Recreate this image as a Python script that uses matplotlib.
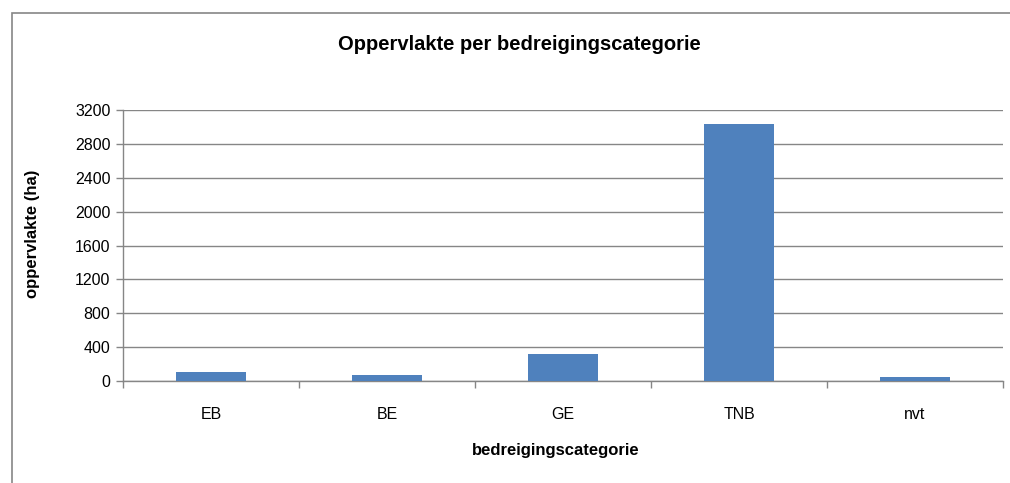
import matplotlib.pyplot as plt
from matplotlib.patches import Rectangle
import numpy as np

plt.rcParams['font.family'] = ['Liberation Sans', 'DejaVu Sans']

categories = ['EB', 'BE', 'GE', 'TNB', 'nvt']
oppervlakte = [105, 70, 315, 3030, 50]
y_ticks = [0, 400, 800, 1200, 1600, 2000, 2400, 2800, 3200]

W, H = 1010, 483
fig = plt.figure(figsize=(W / 100, H / 100), dpi=100)

# chart border (left/top visible, runs off the right and bottom edges)
fig.patches.append(Rectangle((12 / W, -0.05), 1.2, 1 - 13 / H + 0.05,
                             transform=fig.transFigure, fill=False,
                             edgecolor='#868686', linewidth=1.2))

ax = fig.add_axes([123 / W, 1 - 381 / H, (1003 - 123) / W, (381 - 110) / H])

x = np.arange(len(categories))
ax.bar(x, oppervlakte, width=0.4, color='#4F81BD', zorder=3)

ax.set_xlim(-0.5, len(categories) - 0.5)
ax.set_ylim(0, 3200)
ax.set_yticks(y_ticks)
ax.set_yticklabels([str(v) for v in y_ticks], fontsize=11.5)
ax.yaxis.grid(True, color='#868686', linewidth=1, zorder=0)

ax.set_xticks(x)
ax.set_xticklabels(categories, fontsize=11.5)
ax.tick_params(axis='x', length=0, pad=19)
ax.set_xticks(np.arange(-0.5, len(categories), 1), minor=True)
ax.tick_params(axis='x', which='minor', length=5, color='#868686', width=1)
ax.tick_params(axis='y', length=5, color='#868686', width=1, pad=4)

for side in ['top', 'right']:
    ax.spines[side].set_visible(False)
for side in ['left', 'bottom']:
    ax.spines[side].set_color('#868686')
    ax.spines[side].set_linewidth(1)

fig.text(519 / W, 1 - 45 / H, 'Oppervlakte per bedreigingscategorie',
         ha='center', va='center', fontsize=14.5, fontweight='bold')
fig.text(32 / W, 1 - 234 / H, 'oppervlakte (ha)', ha='center', va='center',
         rotation=90, fontsize=12, fontweight='bold')
fig.text(556 / W, 1 - 450 / H, 'bedreigingscategorie', ha='center',
         va='center', fontsize=12, fontweight='bold')

fig.savefig('out.png', dpi=100)
